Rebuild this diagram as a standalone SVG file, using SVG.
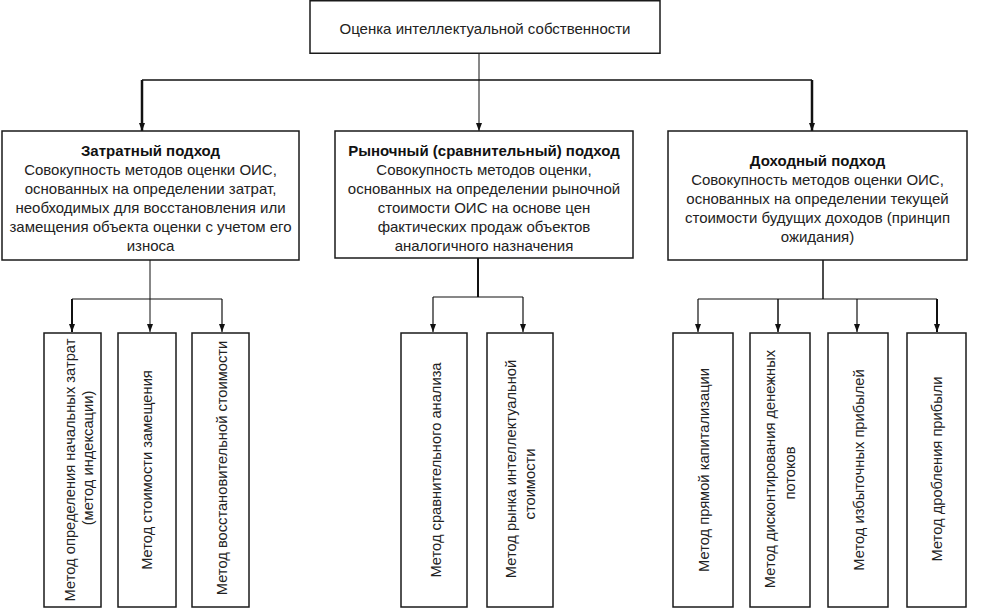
<svg xmlns="http://www.w3.org/2000/svg" width="987" height="615" viewBox="0 0 987 615">
<style>
.box{fill:#fff;stroke:#1a1a1a;stroke-width:1.5}
.t{font-family:"Liberation Sans",Arial,sans-serif;font-size:15px;fill:#222;text-anchor:middle;dominant-baseline:central}
.r{font-size:14.7px}
.b{font-weight:bold;fill:#111}
.c{fill:none;stroke:#111}
</style>
<defs>
<marker id="ah" viewBox="0 0 8 8" refX="8" refY="4" markerUnits="userSpaceOnUse" markerWidth="8" markerHeight="8" orient="auto">
<path d="M0,1 L8,4 L0,7 z" fill="#111"/>
</marker>
</defs>
<rect width="987" height="615" fill="#fff"/>
<g id="connectors">
<path class="c" stroke-width="1" d="M479,53 V131" marker-end="url(#ah)"/>
<path class="c" stroke-width="1.5" d="M142,80 H812"/>
<path class="c" stroke-width="2.5" d="M142,80 V131" marker-end="url(#ah)"/>
<path class="c" stroke-width="2.5" d="M812,80 V131" marker-end="url(#ah)"/>
<path class="c" stroke-width="1" d="M150,260 V332" marker-end="url(#ah)"/>
<path class="c" stroke-width="1.2" d="M72,299 H222"/>
<path class="c" stroke-width="2" d="M72,299 V332" marker-end="url(#ah)"/>
<path class="c" stroke-width="1.2" d="M222,299 V332" marker-end="url(#ah)"/>
<path class="c" stroke-width="2" d="M478,258 V297"/>
<path class="c" stroke-width="1.2" d="M433,297 H523"/>
<path class="c" stroke-width="1.2" d="M433,297 V332" marker-end="url(#ah)"/>
<path class="c" stroke-width="1.2" d="M523,297 V332" marker-end="url(#ah)"/>
<path class="c" stroke-width="1.5" d="M823,260 V299"/>
<path class="c" stroke-width="1.2" d="M698,299 H937"/>
<path class="c" stroke-width="1.2" d="M698,299 V332" marker-end="url(#ah)"/>
<path class="c" stroke-width="1.5" d="M778,299 V332" marker-end="url(#ah)"/>
<path class="c" stroke-width="1.2" d="M857,299 V332" marker-end="url(#ah)"/>
<path class="c" stroke-width="2" d="M937,299 V332" marker-end="url(#ah)"/>
</g>
<g id="root">
<rect class="box" x="310" y="0.75" width="350" height="52.5"/>
<text class="t" x="485" y="28">Оценка интеллектуальной собственности</text>
</g>
<g id="cost">
<rect class="box" x="2" y="131" width="297" height="129"/>
<text class="t b" x="150.5" y="150">Затратный подход</text>
<text class="t" x="150.5" y="169">Совокупность методов оценки ОИС,</text>
<text class="t" x="150.5" y="188">основанных на определении затрат,</text>
<text class="t" x="150.5" y="207">необходимых для восстановления или</text>
<text class="t" x="150.5" y="226">замещения объекта оценки с учетом его</text>
<text class="t" x="150.5" y="245">износа</text>
</g>
<g id="market">
<rect class="box" x="335" y="131" width="298" height="127"/>
<text class="t b" x="484" y="150">Рыночный (сравнительный) подход</text>
<text class="t" x="484" y="169">Совокупность методов оценки,</text>
<text class="t" x="484" y="188">основанных на определении рыночной</text>
<text class="t" x="484" y="207">стоимости ОИС на основе цен</text>
<text class="t" x="484" y="226">фактических продаж  объектов</text>
<text class="t" x="484" y="245">аналогичного назначения</text>
</g>
<g id="income">
<rect class="box" x="668" y="131" width="299" height="129"/>
<text class="t b" x="817.5" y="160">Доходный подход</text>
<text class="t" x="817.5" y="179">Совокупность методов оценки ОИС,</text>
<text class="t" x="817.5" y="198">основанных на определении текущей</text>
<text class="t" x="817.5" y="217">стоимости будущих доходов (принцип</text>
<text class="t" x="817.5" y="236">ожидания)</text>
</g>
<g id="m1">
<rect class="box" x="44" y="333" width="57" height="274"/>
<text class="t r" transform="translate(70,470) rotate(-90)">Метод  определения начальных затрат</text>
<text class="t r" transform="translate(88,458) rotate(-90)">(метод индексации)</text>
</g>
<g id="m2">
<rect class="box" x="118" y="333" width="58" height="274"/>
<text class="t r" transform="translate(147,470) rotate(-90)">Метод стоимости замещения</text>
</g>
<g id="m3">
<rect class="box" x="192" y="333" width="57" height="274"/>
<text class="t r" transform="translate(222,468) rotate(-90)">Метод восстановительной стоимости</text>
</g>
<g id="m4">
<rect class="box" x="401" y="333" width="66" height="274"/>
<text class="t r" transform="translate(436,470) rotate(-90)">Метод сравнительного анализа</text>
</g>
<g id="m5">
<rect class="box" x="487" y="333" width="66" height="274"/>
<text class="t r" transform="translate(511,469) rotate(-90)">Метод рынка интеллектуальной</text>
<text class="t r" transform="translate(530,484) rotate(-90)">стоимости</text>
</g>
<g id="m6">
<rect class="box" x="673" y="333" width="60" height="274"/>
<text class="t r" transform="translate(704,470) rotate(-90)">Метод прямой капитализации</text>
</g>
<g id="m7">
<rect class="box" x="750" y="333" width="60" height="274"/>
<text class="t r" transform="translate(770,469) rotate(-90)">Метод дисконтирования денежных</text>
<text class="t r" transform="translate(790,473) rotate(-90)">потоков</text>
</g>
<g id="m8">
<rect class="box" x="828" y="333" width="60" height="274"/>
<text class="t r" transform="translate(859,470) rotate(-90)">Метод избыточных прибылей</text>
</g>
<g id="m9">
<rect class="box" x="907" y="333" width="59" height="274"/>
<text class="t r" transform="translate(937,469) rotate(-90)">Метод дробления прибыли</text>
</g>
</svg>
